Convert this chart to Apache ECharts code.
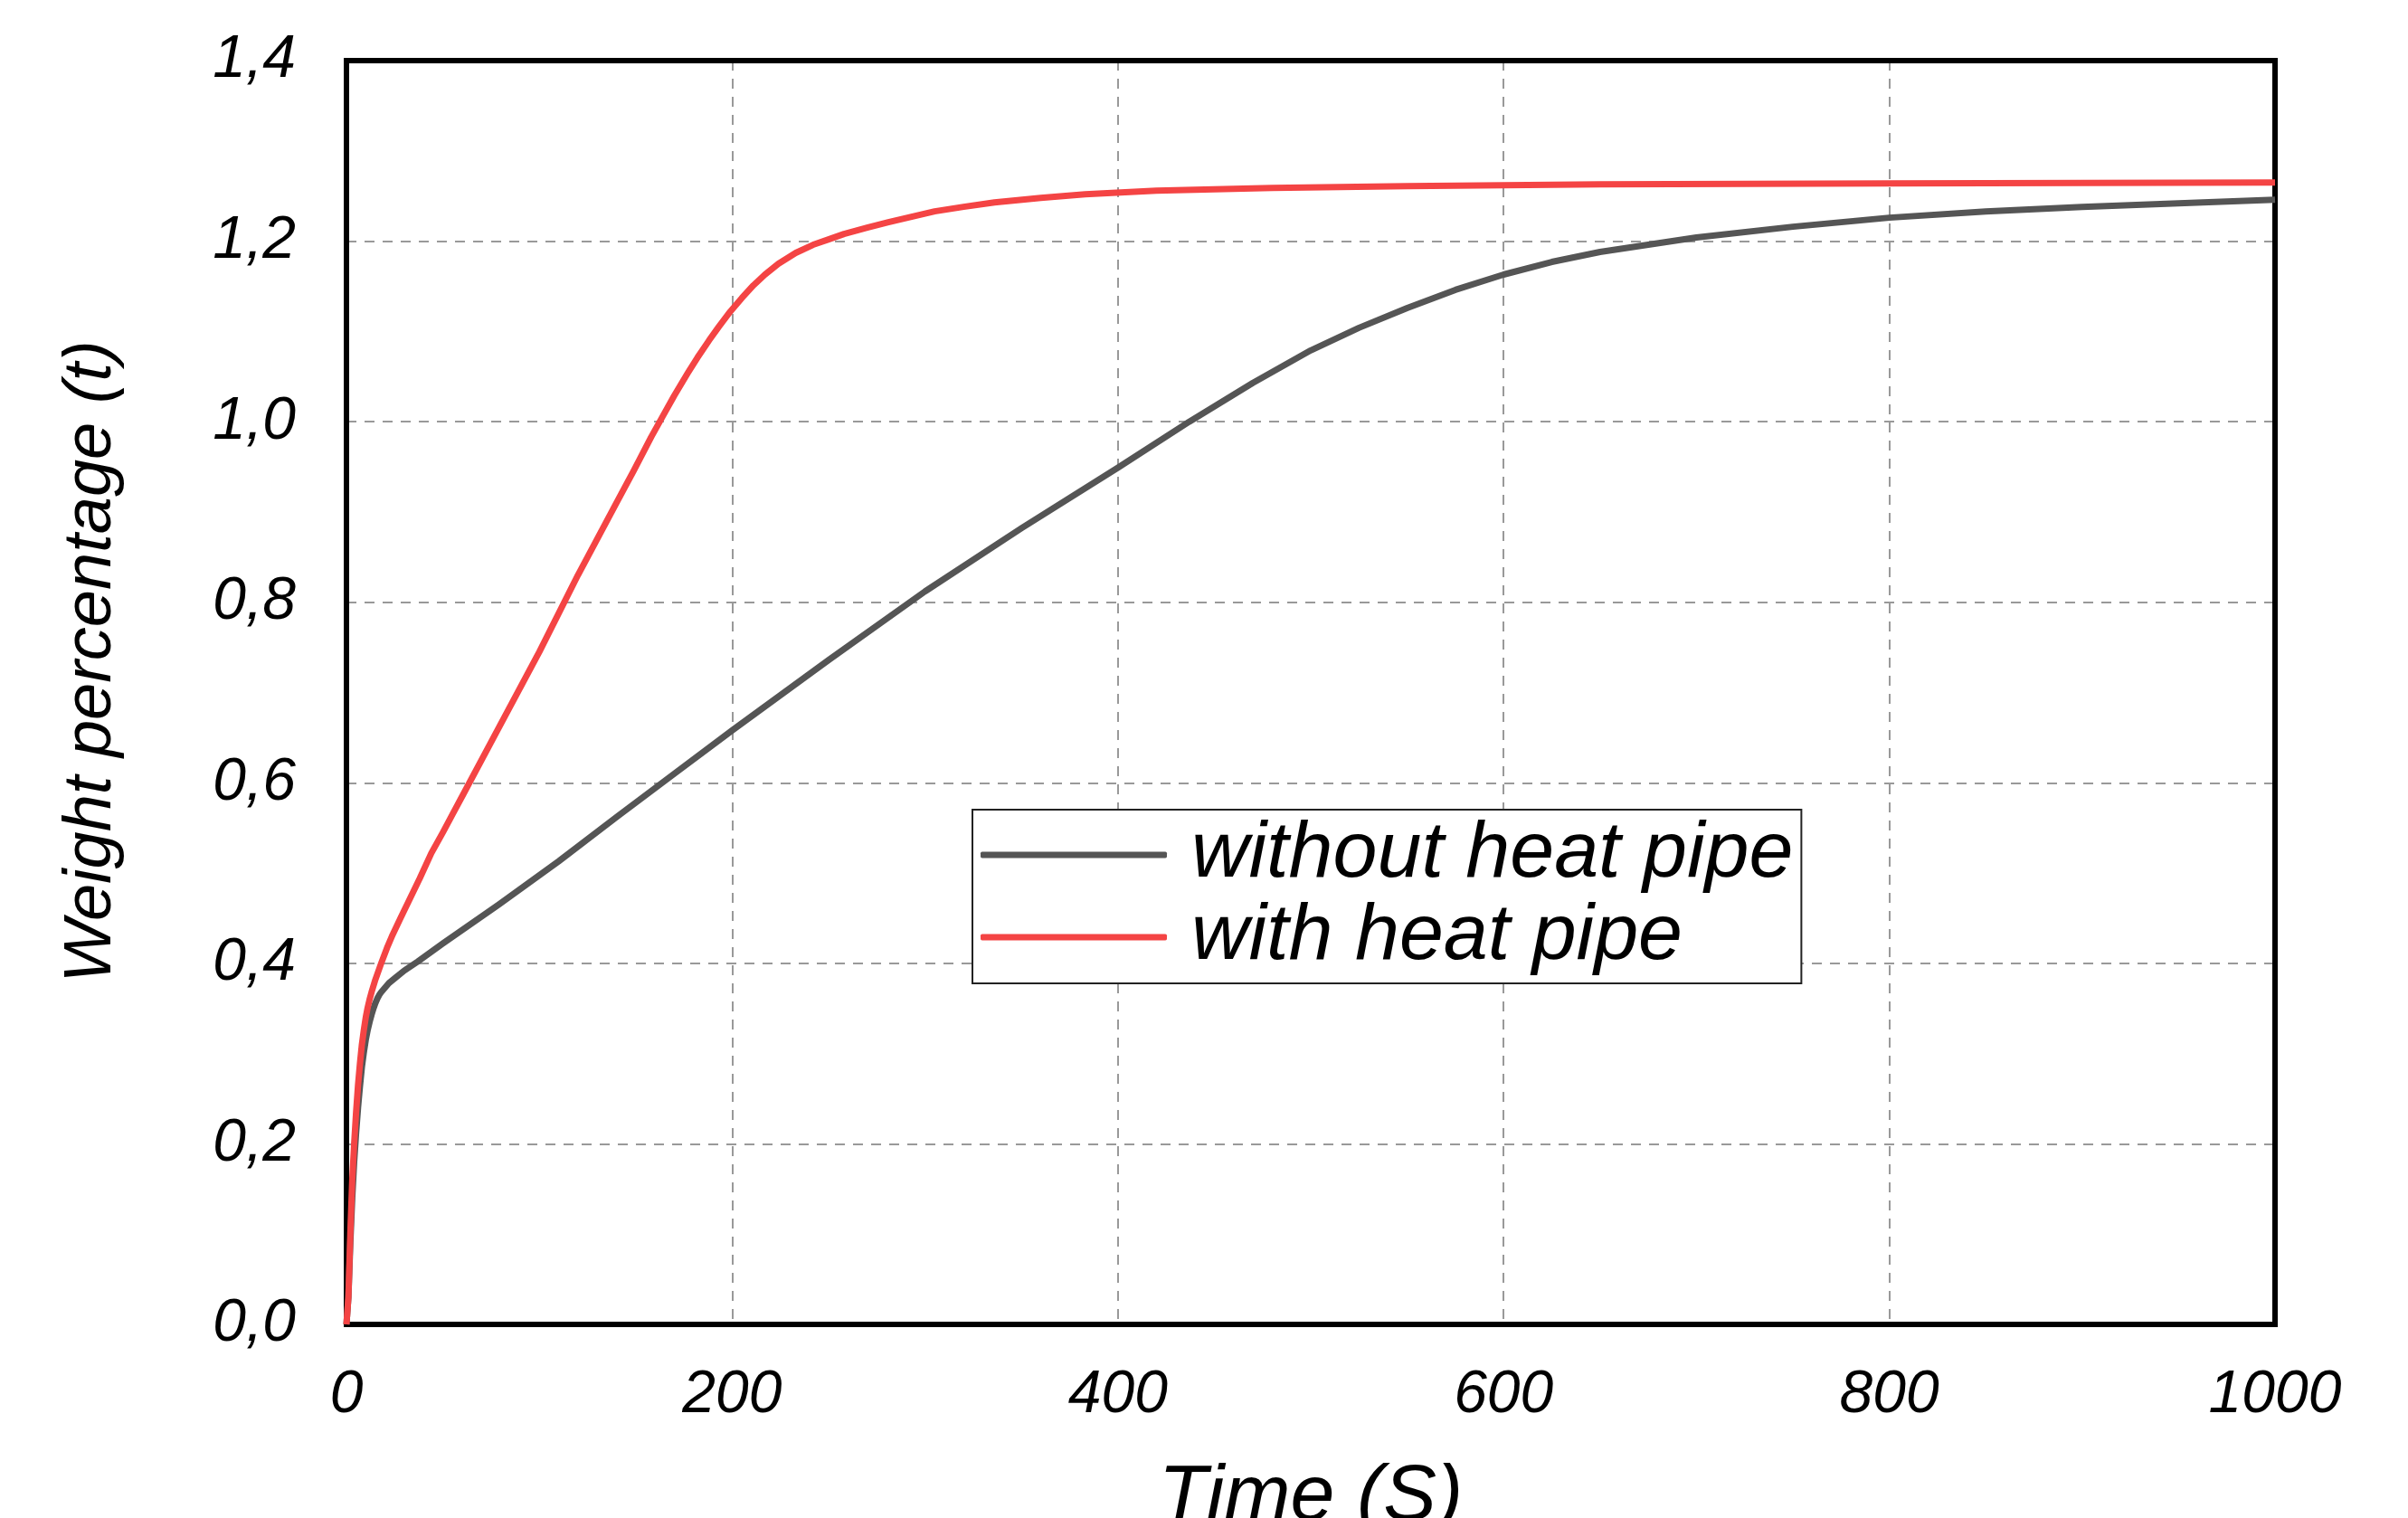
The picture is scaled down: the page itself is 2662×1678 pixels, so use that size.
<!DOCTYPE html>
<html>
<head>
<meta charset="utf-8">
<script src="https://cdn.jsdelivr.net/npm/echarts@6/dist/echarts.min.js"></script>
<style>
html,body{margin:0;padding:0;background:#fff;}
#chart{width:2662px;height:1678px;}
</style>
</head>
<body>
<div id="chart"></div>
<script>
// ---- data ----
var seriesNames = ['without heat pipe', 'with heat pipe'];
var xTicks = ['0', '200', '400', '600', '800', '1000'];
var yTicks = ['0,0', '0,2', '0,4', '0,6', '0,8', '1,0', '1,2', '1,4'];

var withoutHeatPipe = [
  [0, 0], [1, 0.03], [2, 0.09], [3, 0.14], [4, 0.18], [5, 0.212], [6, 0.24],
  [7, 0.264], [8, 0.285], [9, 0.301], [10, 0.315], [11, 0.326], [12, 0.335],
  [13, 0.343], [14, 0.35], [15, 0.356], [16, 0.361], [17, 0.365], [18, 0.368],
  [20, 0.373], [22, 0.378], [26, 0.385], [30, 0.392], [37, 0.402], [50, 0.422],
  [79, 0.465], [110, 0.513], [140, 0.562], [170, 0.61], [200, 0.658],
  [250, 0.736], [300, 0.812], [350, 0.882], [400, 0.949], [437, 1.0],
  [470, 1.043], [500, 1.079], [525, 1.104], [550, 1.126], [575, 1.146],
  [600, 1.163], [625, 1.177], [650, 1.188], [700, 1.204], [750, 1.216],
  [800, 1.226], [850, 1.233], [900, 1.238], [950, 1.242], [1000, 1.246]
];

var withHeatPipe = [
  [0, 0], [1, 0.03], [2, 0.1], [3, 0.16], [4, 0.2], [5, 0.235], [6, 0.265],
  [7, 0.289], [8, 0.31], [9, 0.326], [10, 0.34], [11, 0.351], [12, 0.36],
  [13, 0.368], [15, 0.382], [18, 0.4], [21, 0.417], [24, 0.432],
  [28, 0.45], [33, 0.472], [38, 0.494], [44, 0.522], [50, 0.545], [55, 0.565],
  [60, 0.585], [80, 0.665], [100, 0.745], [120, 0.83], [140, 0.91],
  [149, 0.946], [158, 0.983], [164, 1.006], [170, 1.029], [177, 1.054],
  [182, 1.071], [188, 1.09], [193, 1.105], [199, 1.122], [205, 1.137],
  [211, 1.151], [217, 1.163], [224, 1.175], [233, 1.187], [242, 1.196],
  [250, 1.202], [258, 1.208], [270, 1.215], [281, 1.221], [293, 1.227],
  [305, 1.233], [320, 1.238], [336, 1.243], [360, 1.248], [383, 1.252],
  [420, 1.256], [480, 1.259], [550, 1.261], [650, 1.263], [800, 1.264],
  [1000, 1.265]
];

var FONT = 'Liberation Sans';

var chart = echarts.init(document.getElementById('chart'), null, {renderer: 'canvas'});

function yLabel(v) {
  var i = Math.round(v / 0.2);
  return yTicks[i] !== undefined ? yTicks[i] : '';
}
function xLabel(v) {
  var i = Math.round(v / 200);
  return xTicks[i] !== undefined ? xTicks[i] : '';
}

function frameLine() {
  return {show: true, onZero: false, lineStyle: {color: '#000', width: 6, cap: 'square'}};
}
function gridDash() {
  return {show: true, lineStyle: {color: '#999', width: 2, type: [11, 9]}};
}

var option = {
  backgroundColor: '#ffffff',
  animation: false,
  grid: {left: 383, right: 147, top: 67, bottom: 214, containLabel: false, outerBoundsMode: 'none'},
  legend: {
    orient: 'vertical',
    left: 1075, top: 895,
    padding: [6, 9, 7, 9],
    borderColor: '#222', borderWidth: 2,
    backgroundColor: '#fff',
    icon: 'roundRect',
    itemWidth: 206, itemHeight: 7, itemGap: 3,
    data: seriesNames,
    textStyle: {
      fontFamily: FONT, fontStyle: 'italic', fontSize: 88, lineHeight: 86,
      color: '#000', padding: [0, 0, 0, 22]
    }
  },
  xAxis: [{
    type: 'value', min: 0, max: 1000, interval: 200, position: 'bottom',
    name: 'Time (S)', nameLocation: 'middle', nameGap: 148,
    nameTextStyle: {fontFamily: FONT, fontStyle: 'italic', fontSize: 88, color: '#000'},
    axisLine: frameLine(),
    axisTick: {show: false},
    axisLabel: {
      formatter: xLabel, margin: 46,
      fontFamily: FONT, fontStyle: 'italic', fontSize: 66, color: '#000'
    },
    splitLine: gridDash()
  }, {
    type: 'value', min: 0, max: 1000, interval: 200, position: 'top',
    axisLine: frameLine(), axisTick: {show: false}, axisLabel: {show: false},
    splitLine: {show: false}
  }],
  yAxis: [{
    type: 'value', min: 0, max: 1.4, interval: 0.2, position: 'left',
    name: 'Weight percentage (t)', nameLocation: 'middle', nameGap: 245,
    nameTextStyle: {fontFamily: FONT, fontStyle: 'italic', fontSize: 74, color: '#000', padding: [0, 0, 0, 68]},
    axisLine: frameLine(),
    axisTick: {show: false},
    axisLabel: {
      formatter: yLabel, margin: 56,
      fontFamily: FONT, fontStyle: 'italic', fontSize: 66, color: '#000'
    },
    splitLine: gridDash()
  }, {
    type: 'value', min: 0, max: 1.4, interval: 0.2, position: 'right',
    axisLine: frameLine(), axisTick: {show: false}, axisLabel: {show: false},
    splitLine: {show: false}
  }],
  series: [
    {
      name: seriesNames[0], type: 'line', data: withoutHeatPipe,
      xAxisIndex: 0, yAxisIndex: 0,
      symbol: 'none', smooth: false,
      lineStyle: {color: '#555555', width: 7, join: 'round'},
      itemStyle: {color: '#555555'},
      z: 3
    },
    {
      name: seriesNames[1], type: 'line', data: withHeatPipe,
      xAxisIndex: 0, yAxisIndex: 0,
      symbol: 'none', smooth: false,
      lineStyle: {color: '#F44444', width: 7, join: 'round'},
      itemStyle: {color: '#F44444'},
      z: 4
    }
  ]
};
chart.setOption(option);
</script>
</body>
</html>
